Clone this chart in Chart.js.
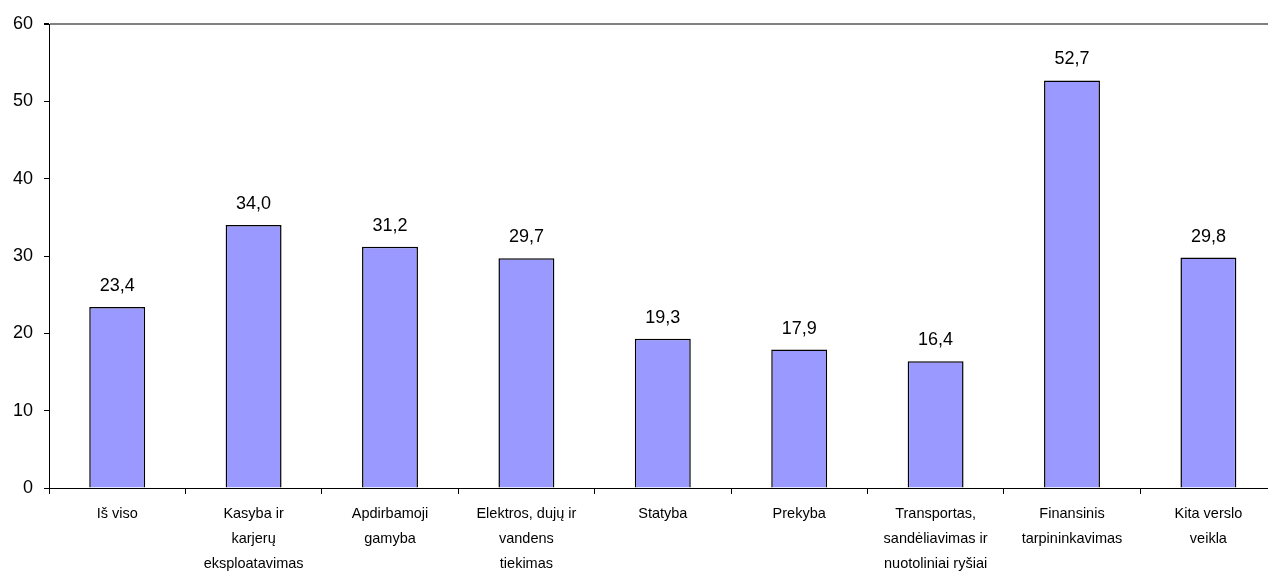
<!DOCTYPE html>
<html>
<head>
<meta charset="utf-8">
<script src="https://cdn.jsdelivr.net/npm/chart.js@4/dist/chart.umd.min.js"></script>
<style>
  html, body { margin: 0; padding: 0; background: #fff; overflow: hidden; }
  #wrap { width: 1280px; height: 571px; }
</style>
</head>
<body>
<div id="wrap"><canvas id="chart"></canvas></div>
<script>
const categories = [
  ['Iš viso'],
  ['Kasyba ir', 'karjerų', 'eksploatavimas'],
  ['Apdirbamoji', 'gamyba'],
  ['Elektros, dujų ir', 'vandens', 'tiekimas'],
  ['Statyba'],
  ['Prekyba'],
  ['Transportas,', 'sandėliavimas ir', 'nuotoliniai ryšiai'],
  ['Finansinis', 'tarpininkavimas'],
  ['Kita verslo', 'veikla']
];
const values = [23.4, 34.0, 31.2, 29.7, 19.3, 17.9, 16.4, 52.7, 29.8];
const yTicks = [0, 10, 20, 30, 40, 50, 60];

// value labels above the bars, with decimal comma
const valueLabels = {
  id: 'valueLabels',
  afterDatasetsDraw(chart) {
    const ctx = chart.ctx;
    const meta = chart.getDatasetMeta(0);
    ctx.save();
    ctx.font = '18px "Liberation Sans", Arial, sans-serif';
    ctx.fillStyle = '#000';
    ctx.textAlign = 'center';
    ctx.textBaseline = 'alphabetic';
    meta.data.forEach((bar, i) => {
      ctx.fillText(values[i].toFixed(1).replace('.', ','), bar.x, bar.y - 16);
    });
    ctx.restore();
  }
};

new Chart(document.getElementById('chart'), {
  type: 'bar',
  data: {
    labels: categories,
    datasets: [{
      data: values,
      backgroundColor: '#9999ff',
      borderColor: '#000',
      borderWidth: 1.5,
      barPercentage: 0.82,
      categoryPercentage: 0.5
    }]
  },
  options: {
    responsive: true,
    maintainAspectRatio: false,
    animation: false,
    layout: { padding: { top: 24, right: 3.4, left: 0, bottom: 0 } },
    plugins: {
      legend: { display: false },
      tooltip: { enabled: false }
    },
    scales: {
      x: {
        offset: true,
        afterFit: s => { s.height = 83; },
        grid: {
          offset: true,
          drawOnChartArea: false,
          tickLength: 6,
          tickColor: '#000'
        },
        border: { color: '#000', width: 1 },
        ticks: {
          color: '#000',
          padding: 8,
          maxRotation: 0,
          autoSkip: false,
          font: { family: '"Liberation Sans", Arial, sans-serif', size: 14.5, lineHeight: 1.7 }
        }
      },
      y: {
        min: 0,
        max: 60,
        afterFit: s => { s.width = 49; },
        afterBuildTicks: s => { s.ticks = yTicks.map(v => ({ value: v })); },
        grid: {
          color: c => (c.tick && c.tick.value === 60) ? '#808080' : 'rgba(0,0,0,0)',
          lineWidth: c => (c.tick && c.tick.value === 60) ? 2 : 1,
          tickColor: '#000',
          tickLength: 5
        },
        border: { color: '#000', width: 1 },
        ticks: {
          color: '#000',
          padding: 11,
          font: { family: '"Liberation Sans", Arial, sans-serif', size: 18 }
        }
      }
    }
  },
  plugins: [valueLabels]
});
</script>
</body>
</html>
